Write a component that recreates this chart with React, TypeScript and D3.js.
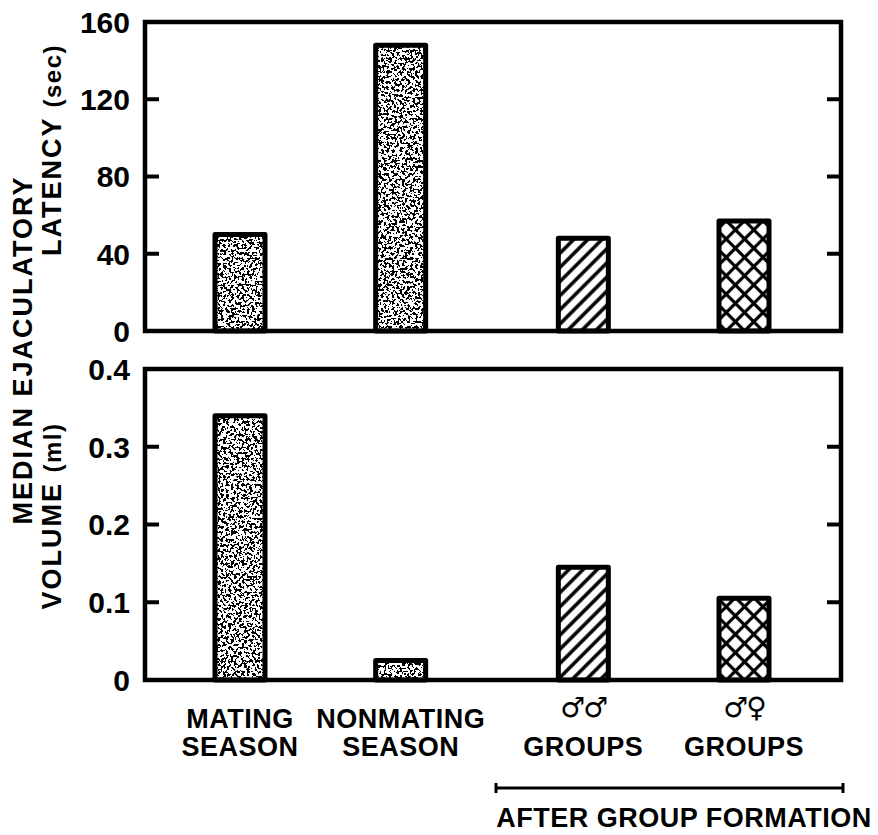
import React from 'react';
import * as d3 from 'd3';

// values
const categories = ['mating', 'nonmating', 'mm', 'mf'];
const labelTop = ['MATING', 'NONMATING', '♂♂', '♂♀'];
const labelBottom = ['SEASON', 'SEASON', 'GROUPS', 'GROUPS'];
const isGroup = [false, false, true, true];
const fills = ['stipple', 'stipple', 'hatch', 'cross'];
const latency = [50, 148, 48, 57];
const volume = [0.34, 0.025, 0.145, 0.105];
const latencyTicks = [0, 40, 80, 120, 160];
const volumeTicks = [0, 0.1, 0.2, 0.3, 0.4];

const W = 878, H = 835;
const left = 145, right = 841;
const font = '"Liberation Sans", Arial, sans-serif';

function Panel(props) {
  const { values, ticks, top, bottom, fmt, x } = props;
  const y = d3.scaleLinear().domain([ticks[0], ticks[ticks.length - 1]]).range([bottom, top]);
  const barW = 50;
  return (
    <g>
      {values.map((v, i) => {
        const cx = x(categories[i]);
        const fill = fills[i];
        return (
          <g key={i}>
            {fill === 'stipple' ? (
              <rect x={cx - barW / 2} y={y(v)} width={barW} height={bottom - y(v)}
                fill="#fff" filter="url(#stipple)" />
            ) : (
              <rect x={cx - barW / 2} y={y(v)} width={barW} height={bottom - y(v)}
                fill={`url(#${fill})`} />
            )}
            <rect x={cx - barW / 2} y={y(v)} width={barW} height={bottom - y(v)}
              fill="none" stroke="#000" strokeWidth={5} strokeLinejoin="round" />
          </g>
        );
      })}
      <rect x={left} y={top} width={right - left} height={bottom - top}
        fill="none" stroke="#000" strokeWidth={4.5} />
      {ticks.map((t, i) => (
        <g key={i}>
          {i > 0 && i < ticks.length - 1 && (
            <g stroke="#000" strokeWidth={4}>
              <line x1={left} x2={left + 14} y1={y(t)} y2={y(t)} />
              <line x1={right} x2={right - 14} y1={y(t)} y2={y(t)} />
            </g>
          )}
          <text x={130} y={y(t)} dy="0.36em" textAnchor="end" fontSize={30}
            fontWeight="bold" fontFamily={font}>{fmt(t)}</text>
        </g>
      ))}
    </g>
  );
}

export default function App() {
  const xp = d3.scalePoint().domain(categories).range([240, 722]);
  const gap = 22;
  const x = (c) => xp(c) + (isGroup[categories.indexOf(c)] ? gap : 0);

  return (
    <svg width={W} height={H} style={{ position: 'absolute', left: 0, top: 0, background: '#fff' }}>
      <defs>
        <filter id="stipple" x="0" y="0" width="1" height="1">
          <feTurbulence type="fractalNoise" baseFrequency="0.38" numOctaves="2" seed="7" result="noise" />
          <feColorMatrix in="noise" type="matrix"
            values="0 0 0 0 0  0 0 0 0 0  0 0 0 0 0  1.6 0 0 0 -0.3" result="a" />
          <feComponentTransfer in="a" result="dots">
            <feFuncA type="discrete" tableValues="0 0 0 0 0 0 0 0 0 0 0 1 1 1 1 1 1 1 1 1" />
          </feComponentTransfer>
          <feComposite in="dots" in2="SourceGraphic" operator="over" result="mix" />
          <feComposite in="mix" in2="SourceGraphic" operator="in" />
        </filter>
        <pattern id="hatch" width={10} height={10} patternUnits="userSpaceOnUse" patternTransform="rotate(45)">
          <rect width={10} height={10} fill="#fff" />
          <line x1={5} x2={5} y1={0} y2={10} stroke="#000" strokeWidth={3.5} />
        </pattern>
        <pattern id="cross" width={13} height={13} patternUnits="userSpaceOnUse" patternTransform="rotate(45)">
          <rect width={13} height={13} fill="#fff" />
          <line x1={6.5} x2={6.5} y1={0} y2={13} stroke="#000" strokeWidth={3.2} />
          <line x1={0} x2={13} y1={6.5} y2={6.5} stroke="#000" strokeWidth={3.2} />
        </pattern>
      </defs>

      <Panel values={latency} ticks={latencyTicks} top={22} bottom={331} x={x}
        fmt={(t) => String(t)} />
      <Panel values={volume} ticks={volumeTicks} top={369} bottom={680} x={x}
        fmt={(t) => (t === 0 ? '0' : d3.format('.1f')(t))} />

      {/* y titles */}
      <g fontFamily={font} fontWeight="bold" fontSize={27} letterSpacing={2}>
        <text transform="translate(32,350) rotate(-90)" textAnchor="middle">MEDIAN EJACULATORY</text>
        <text transform="translate(61,150) rotate(-90)" textAnchor="middle">
          LATENCY <tspan fontSize={24} letterSpacing={1.5}>(sec)</tspan>
        </text>
        <text transform="translate(61,516) rotate(-90)" textAnchor="middle">
          VOLUME <tspan fontSize={24} letterSpacing={1.5}>(ml)</tspan>
        </text>
      </g>

      {/* category labels */}
      <g fontFamily={font} fontWeight="bold" fontSize={27} textAnchor="middle" letterSpacing={0.5}>
        {categories.map((c, i) => (
          <g key={c}>
            {isGroup[i] ? (
              <text x={x(c)} y={717} fontFamily='"DejaVu Sans", sans-serif' fontSize={28}
                letterSpacing={-2}>{labelTop[i]}</text>
            ) : (
              <text x={x(c)} y={728}>{labelTop[i]}</text>
            )}
            <text x={x(c)} y={756}>{labelBottom[i]}</text>
          </g>
        ))}
        <g stroke="#000" strokeWidth={3}>
          <line x1={496} x2={843} y1={788} y2={788} />
          <line x1={496} x2={496} y1={783} y2={793} />
          <line x1={843} x2={843} y1={783} y2={793} />
        </g>
        <text x={684} y={827}>AFTER GROUP FORMATION</text>
      </g>
    </svg>
  );
}
